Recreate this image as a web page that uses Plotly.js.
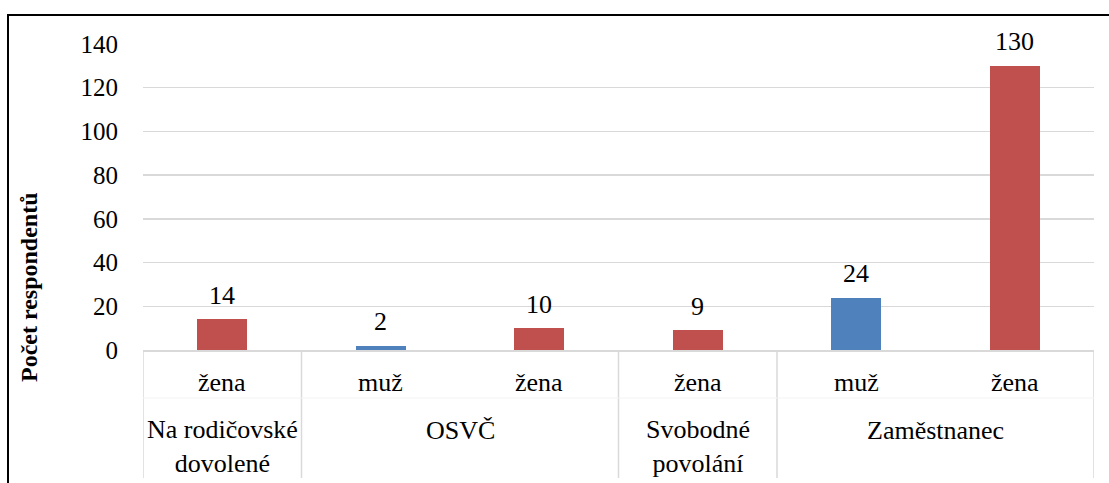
<!DOCTYPE html>
<html>
<head>
<meta charset="utf-8">
<script src="https://cdn.plot.ly/plotly-3.0.1.min.js"></script>
<style>
  html, body { margin: 0; padding: 0; background: #fff; }
  #wrap { position: relative; width: 1109px; height: 483px; overflow: hidden; }
  #chart { width: 1109px; height: 483px; }
  #frame { position: absolute; left: 7px; top: 14px; right: -5px; bottom: -5px;
           border-top: 2px solid #000; border-left: 2px solid #000; pointer-events: none; }
</style>
</head>
<body>
<div id="wrap"><div id="chart"></div><div id="frame"></div></div>
<script>
// Data
const groups  = ["Na rodičovské<br>dovolené", "OSVČ", "OSVČ", "Svobodné<br>povolání", "Zaměstnanec", "Zaměstnanec"];
const genders = ["žena", "muž", "žena", "žena", "muž", "žena"];
const counts  = [14, 2, 10, 9, 24, 130];
const yTicks  = [0, 20, 40, 60, 80, 100, 120, 140];
const yTitle  = "Počet respondentů";

const colors = { "muž": "#4F81BD", "žena": "#C0504D" };
const serifFont = "Liberation Serif";
const idx = counts.map((_, i) => i);

const traces = ["muž", "žena"].map(g => {
  const xs = idx.filter(i => genders[i] === g);
  return {
    type: "bar",
    name: g,
    x: xs,
    y: xs.map(i => counts[i]),
    width: 0.315,
    marker: { color: colors[g] },
    hoverinfo: "x+y",
    showlegend: false
  };
});

const annotations = [];
// value labels
idx.forEach(i => annotations.push({
  x: i, y: counts[i], xref: "x", yref: "y", text: String(counts[i]),
  showarrow: false, yanchor: "middle", yshift: 24,
  font: { family: serifFont, size: 26, color: "#000" }
}));
// level-1 labels (gender)
idx.forEach(i => annotations.push({
  x: i, y: 0, xref: "x", yref: "paper", text: genders[i],
  showarrow: false, yanchor: "middle", yshift: -32,
  font: { family: serifFont, size: 26, color: "#000" }
}));
// level-2 labels (groups) + separators
const shapes = [];
const groupRuns = [];
idx.forEach(i => {
  if (i === 0 || groups[i] !== groups[i - 1]) groupRuns.push({ name: groups[i], start: i, end: i });
  else groupRuns[groupRuns.length - 1].end = i;
});
const sepBottom = -128 / 306;
groupRuns.forEach(r => {
  const multi = r.name.indexOf("<br>") >= 0;
  annotations.push({
    x: (r.start + r.end) / 2, y: 0, xref: "x", yref: "paper", text: r.name,
    showarrow: false, yanchor: "middle", yshift: multi ? -96 : -80,
    font: { family: serifFont, size: 26, color: "#000" }
  });
  shapes.push({ type: "line", xref: "x", yref: "paper", x0: r.start - 0.5, x1: r.start - 0.5,
    y0: 0, y1: sepBottom, line: { color: "#d9d9d9", width: 1.5 } });
});
shapes.push({ type: "line", xref: "x", yref: "paper", x0: idx.length - 0.5, x1: idx.length - 0.5,
  y0: 0, y1: sepBottom, line: { color: "#d9d9d9", width: 1.5 } });
// faint divider between levels
shapes.push({ type: "line", xref: "x", yref: "paper", x0: -0.5, x1: idx.length - 0.5,
  y0: -48 / 306, y1: -48 / 306, line: { color: "#f3f3f3", width: 1 } });

// y title
annotations.push({
  x: 0, y: (350 - 287) / 306, xref: "paper", yref: "paper", text: "<b>" + yTitle + "</b>",
  textangle: -90, showarrow: false, xanchor: "center", yanchor: "middle", xshift: -114,
  font: { family: serifFont, size: 24, color: "#000" }
});

const layout = {
  width: 1109, height: 483,
  margin: { l: 143, r: 15, t: 44, b: 133 },
  paper_bgcolor: "#fff", plot_bgcolor: "#fff",
  font: { family: serifFont, color: "#000" },
  bargap: 0,
  xaxis: {
    range: [-0.5, idx.length - 0.5], showticklabels: false, ticks: "",
    showgrid: false, zeroline: false, showline: true, linecolor: "#d9d9d9", linewidth: 1.5,
    fixedrange: true
  },
  yaxis: {
    range: [0, 140], tickvals: yTicks, ticktext: yTicks.map(String), ticks: "",
    showgrid: true, gridcolor: "#d9d9d9", gridwidth: 1.3, zeroline: false, showline: false,
    ticklabelstandoff: 24,
    tickfont: { family: serifFont, size: 25, color: "#000" }, fixedrange: true
  },
  annotations, shapes
};

Plotly.newPlot("chart", traces, layout, { displayModeBar: false, staticPlot: true });
</script>
</body>
</html>
